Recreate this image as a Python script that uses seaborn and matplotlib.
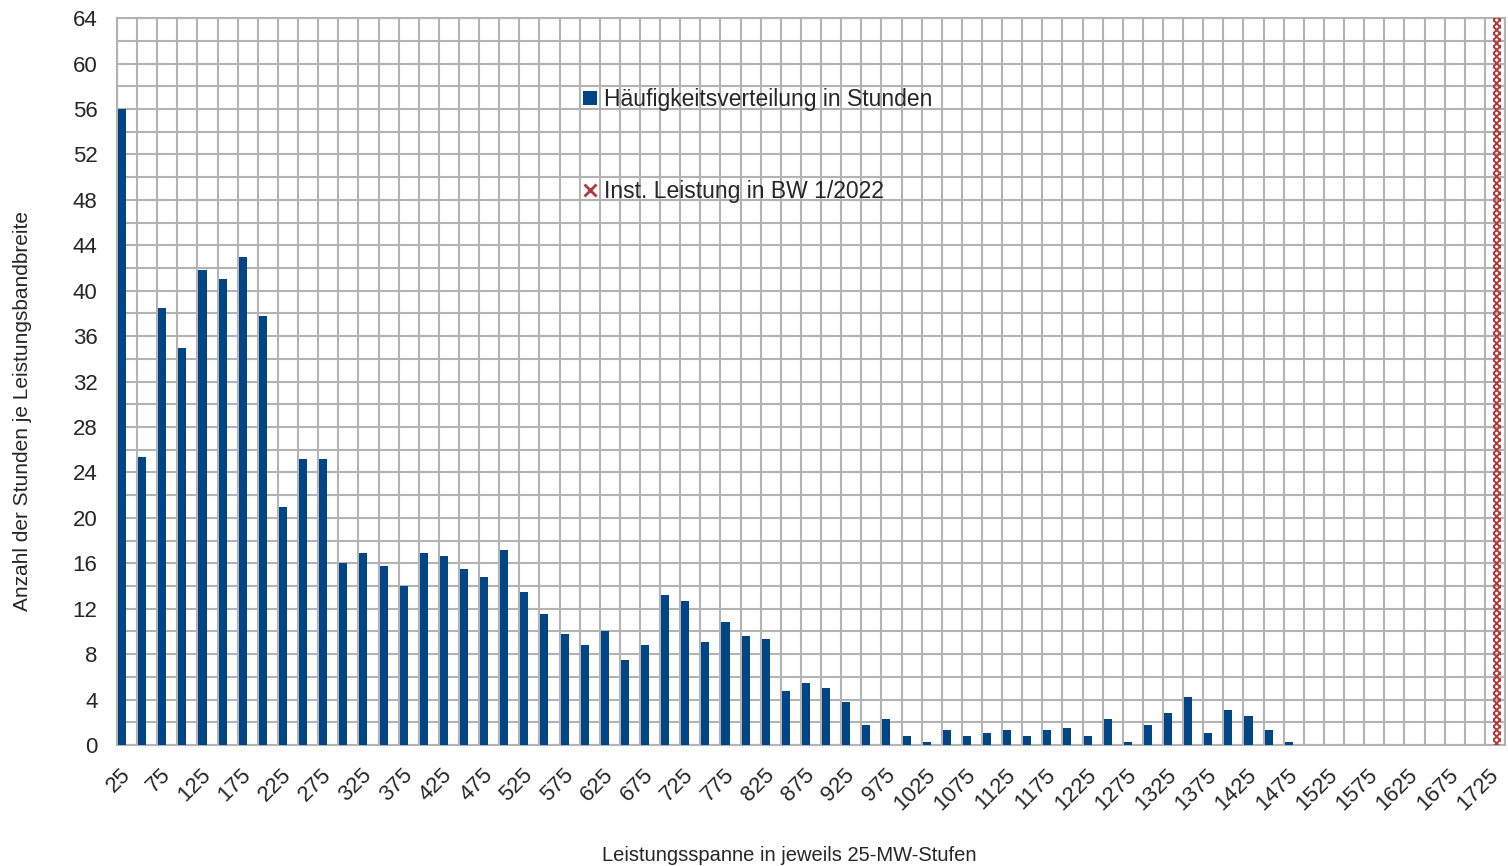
import numpy as np
import pandas as pd
import seaborn as sns
import matplotlib.pyplot as plt
from matplotlib.patches import Patch
from matplotlib.lines import Line2D
from matplotlib.ticker import MultipleLocator, FixedLocator, NullFormatter

# Leistungsstufen in MW (25-MW-Schritte)
stufen = list(range(25, 1750, 25))

stunden = [
    56.0, 25.4, 38.5, 35.0, 41.8, 41.0, 43.0, 37.8, 21.0, 25.2,
    25.2, 16.0, 16.9, 15.8, 14.0, 16.9, 16.6, 15.5, 14.8, 17.2,
    13.5, 11.5, 9.8, 8.8, 10.0, 7.5, 8.8, 13.2, 12.7, 9.1,
    10.8, 9.6, 9.3, 4.8, 5.5, 5.0, 3.75, 1.8, 2.3, 0.8,
    0.3, 1.3, 0.8, 1.05, 1.3, 0.8, 1.3, 1.5, 0.8, 2.3,
    0.3, 1.8, 2.8, 4.25, 1.05, 3.05, 2.55, 1.3, 0.3, 0.0,
    0.0, 0.0, 0.0, 0.0, 0.0, 0.0, 0.0, 0.0, 0.0,
]

inst_leistung = 1725  # installierte Leistung in BW 1/2022

blau = '#004586'
rot = '#b03a3a'
grau = '#b3b3b3'

df = pd.DataFrame({'stufe': [str(s) for s in stufen], 'stunden': stunden})

sns.set_style('white')
plt.rcParams['font.family'] = ['Liberation Sans', 'DejaVu Sans']
plt.rcParams['hatch.linewidth'] = 1.4

fig = plt.figure(figsize=(15.08, 8.66), dpi=100)
ax = fig.add_axes([0.0776, 0.1397, 0.9204, 0.8393])

sns.barplot(data=df, x='stufe', y='stunden', order=df['stufe'], color=blau,
            saturation=1, width=0.4, ax=ax, zorder=3)
# Balken links im Kategoriefeld (Platz fuer zweite Reihe rechts)
for p in ax.patches:
    p.set_x(p.get_x() - 0.25)
    p.set_edgecolor('none')

# installierte Leistung als senkrechte Markierung
idx = stufen.index(inst_leistung)
ax.axvspan(idx - 0.12, idx + 0.32, facecolor='none', edgecolor=rot,
           hatch='xxxxx', lw=0, zorder=4)

n = len(stufen)
ax.set_xlim(-0.5, n - 0.5)
ax.set_ylim(0, 64)

# x: Striche an den Kategoriegrenzen, Beschriftung jede zweite Stufe
ax.xaxis.set_major_locator(FixedLocator(np.arange(n + 1) - 0.5))
ax.xaxis.set_major_formatter(NullFormatter())
ax.xaxis.set_minor_locator(FixedLocator(np.arange(0, n, 2) - 0.35))
ax.set_xticklabels([str(s) for s in stufen[::2]], minor=True,
                   rotation=45, ha='right', rotation_mode='anchor', fontsize=16)
ax.tick_params(axis='x', which='major', length=10, width=1.5, color=grau)
ax.tick_params(axis='x', which='minor', length=0, pad=14)

ax.yaxis.set_major_locator(MultipleLocator(4))
ax.yaxis.set_minor_locator(MultipleLocator(2))
ax.tick_params(axis='y', which='both', length=10, width=1.5, color=grau,
               labelsize=16, pad=4)

ax.grid(True, which='major', axis='x', color=grau, lw=1.5, zorder=0)
ax.grid(True, which='both', axis='y', color=grau, lw=1.5, zorder=0)
ax.set_axisbelow(True)
for s in ax.spines.values():
    s.set_color(grau)
    s.set_linewidth(1.5)

ax.set_xlabel('Leistungsspanne in jeweils 25-MW-Stufen', fontsize=14.5)
ax.set_ylabel('Anzahl der Stunden je Leistungsbandbreite', fontsize=15)
ax.xaxis.set_label_coords(0.484, -0.139)
ax.yaxis.set_label_coords(-0.061, 0.46)

handles = [
    Patch(facecolor=blau, edgecolor='none', label='Häufigkeitsverteilung in Stunden'),
    Line2D([], [], color=rot, marker='x', markersize=8, markeredgewidth=2,
           linestyle='none', label='Inst. Leistung in BW 1/2022'),
]
leg = fig.legend(handles=handles, loc='upper left', bbox_to_anchor=(0.373, 0.922),
                 frameon=False, fontsize=16.5, labelspacing=3.0, handlelength=0.6,
                 handleheight=0.6, handletextpad=0.3)

fig.savefig('out.png', dpi=100)
